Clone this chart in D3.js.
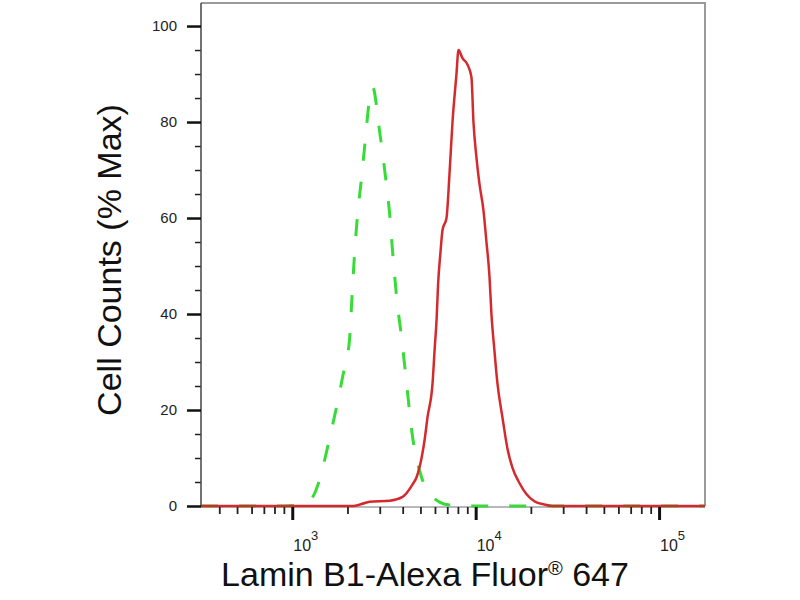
<!DOCTYPE html>
<html>
<head>
<meta charset="utf-8">
<script src="https://cdn.jsdelivr.net/npm/d3@7"></script>
<style>
  body { margin: 0; background: #fff; }
  svg { display: block; }
</style>
</head>
<body>
<svg id="chart" width="800" height="600"></svg>
<script>
// isotype control (green dashed)
const ctrlX = [318, 900, 1100, 1250, 1293, 1662, 1884, 2056, 2120, 2190, 2274, 2389, 2512, 2642, 2743,
  2995, 3226, 3393, 3525, 3707, 3947, 4200, 4470, 5070, 5600, 6350, 7195, 9000, 178000];
const ctrlY = [0, 0, 0.2, 1.2, 1.9, 17, 27, 35, 44, 53, 61, 68.5, 77, 85, 87.3,
  78, 68.5, 61, 53, 43.5, 35, 25.6, 16, 6, 2.7, 0.8, 0.2, 0, 0];

// Lamin B1 (red solid)
const labX = [318, 2134, 2389, 2642, 3393, 3997, 4529, 4762, 5070, 5264, 5464, 5821, 5972, 6125,
  6235, 6433, 6596, 6934, 7195, 7477, 7857, 8060, 8472, 9016, 9480, 9727, 10094, 10500, 11020,
  11450, 11887, 12190, 12650, 13140, 13990, 14900, 15860, 17320, 18900, 20890, 23690, 26180, 178000];
const labY = [0, 0, 0.4, 0.9, 1.1, 1.9, 4.5, 6, 10, 13.7, 18.5, 25.6, 32.5, 39,
  46, 53, 57.5, 60, 69, 80, 90, 95, 93.3, 92, 89.4, 80, 72.7, 67, 61.7,
  55, 48, 40, 32.5, 25.6, 18.5, 12, 8, 4.8, 2.5, 1, 0.3, 0, 0];

const yMajor = [0, 20, 40, 60, 80, 100];
const xMajor = [1e3, 1e4, 1e5];
const xMajorExp = ["3", "4", "5"];

const svg = d3.select("#chart");
const pLeft = 201, pRight = 705, pTop = 3, pBottom = 506;

const x = d3.scaleLog().domain([318, 178000]).range([pLeft, pRight]);
const y = d3.scaleLinear().domain([0, 104.8]).range([pBottom, pTop]);

// minor x ticks: 2..9 of every decade inside the domain
const xMinor = [];
[100, 1000, 10000, 100000].forEach(d => {
  for (let k = 2; k <= 9; k++) {
    const v = d * k;
    if (v > 318 && v < 178000 && !xMajor.includes(v)) xMinor.push(v);
  }
});
const yMinor = d3.range(0, 105, 5).filter(v => v % 20 !== 0);

// frame (top & right, gray)
svg.append("path")
  .attr("d", `M${pLeft},${pTop}H${pRight}V${pBottom}`)
  .attr("fill", "none").attr("stroke", "#9a9a9a").attr("stroke-width", 2);
// bottom axis line
svg.append("line")
  .attr("x1", pLeft).attr("x2", pRight).attr("y1", pBottom + 1).attr("y2", pBottom + 1)
  .attr("stroke", "#a0a0a0").attr("stroke-width", 1.5);

// curves
const line = d3.line().x(d => x(d[0])).y(d => y(d[1])).curve(d3.curveMonotoneX);

svg.append("path")
  .datum(d3.zip(ctrlX, ctrlY))
  .attr("d", line)
  .attr("fill", "none")
  .attr("stroke", "#38dc38")
  .attr("stroke-width", 3)
  .attr("stroke-dasharray", "17,21");

svg.append("path")
  .datum(d3.zip(labX, labY))
  .attr("d", line)
  .attr("fill", "none")
  .attr("stroke", "#d42a2e")
  .attr("stroke-width", 2.5);

// y axis
const yAxisMinor = svg.append("g")
  .attr("transform", `translate(${pLeft},0)`)
  .call(d3.axisLeft(y).tickValues(yMinor).tickSize(6).tickFormat(""));
yAxisMinor.select(".domain").remove();
yAxisMinor.selectAll("line").attr("stroke", "#222").attr("stroke-width", 1.5);

const yAxis = svg.append("g")
  .attr("transform", `translate(${pLeft},0)`)
  .call(d3.axisLeft(y).tickValues(yMajor).tickSize(14).tickPadding(10));
yAxis.select(".domain").attr("d", `M0,${pTop}V${pBottom}`).attr("stroke", "#444").attr("stroke-width", 1.5);
yAxis.selectAll("line").attr("stroke", "#111").attr("stroke-width", 2.5);
yAxis.selectAll("text")
  .attr("font-family", "'Liberation Sans', Arial, sans-serif")
  .attr("font-size", 15).attr("fill", "#222");

// x axis
const xAxisMinor = svg.append("g")
  .attr("transform", `translate(0,${pBottom + 1})`)
  .call(d3.axisBottom(x).tickValues(xMinor).tickSize(7).tickFormat(""));
xAxisMinor.select(".domain").remove();
xAxisMinor.selectAll("line").attr("stroke", "#222").attr("stroke-width", 1.8);

const xAxis = svg.append("g")
  .attr("transform", `translate(0,${pBottom + 1})`)
  .call(d3.axisBottom(x).tickValues(xMajor).tickSize(13).tickFormat(""));
xAxis.select(".domain").remove();
xAxis.selectAll("line").attr("stroke", "#111").attr("stroke-width", 3);

const xLab = svg.append("g")
  .attr("font-family", "'Liberation Sans', Arial, sans-serif")
  .attr("fill", "#222");
xMajor.forEach((v, i) => {
  const t = xLab.append("text")
    .attr("x", x(v) + 1).attr("y", 551)
    .attr("font-size", 16);
  t.append("tspan").text("10");
  t.append("tspan").attr("dy", -11).attr("font-size", 13).text(xMajorExp[i]);
});

// axis titles
svg.append("text")
  .attr("transform", "translate(121,260) rotate(-90)")
  .attr("text-anchor", "middle")
  .attr("font-family", "'Liberation Sans', Arial, sans-serif")
  .attr("font-size", 34)
  .attr("fill", "#111")
  .text("Cell Counts (% Max)");

const xt = svg.append("text")
  .attr("x", 425).attr("y", 586)
  .attr("text-anchor", "middle")
  .attr("font-family", "'Liberation Sans', Arial, sans-serif")
  .attr("font-size", 34)
  .attr("fill", "#111");
xt.append("tspan").text("Lamin B1-Alexa Fluor");
xt.append("tspan").attr("font-size", 20).attr("dy", -11).text("®");
xt.append("tspan").attr("dy", 11).text(" 647");
</script>
</body>
</html>
